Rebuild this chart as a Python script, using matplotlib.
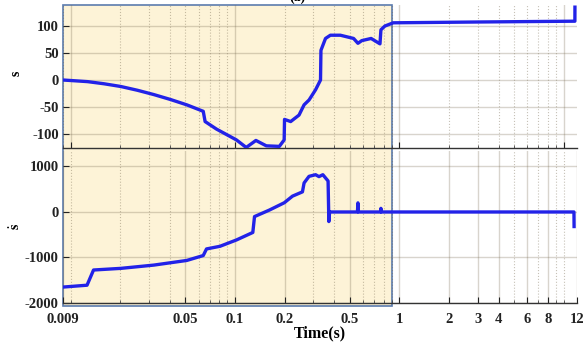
import numpy as np
import matplotlib
matplotlib.use("Agg")
import matplotlib.pyplot as plt
from matplotlib.patches import Rectangle
from matplotlib.ticker import FixedLocator, NullFormatter, LogLocator

# ---- data ----
t_s = [0.009, 0.0127, 0.016, 0.0202, 0.0255, 0.0321, 0.0404, 0.0509, 0.0641, 0.0658,
       0.0772, 0.102, 0.117, 0.134, 0.155, 0.186, 0.199, 0.2, 0.218, 0.245, 0.263,
       0.282, 0.309, 0.331, 0.333, 0.355, 0.380, 0.437, 0.526, 0.559, 0.590, 0.672,
       0.761, 0.771, 0.815, 0.916, 3.0, 11.65, 11.66]
s_vals = [0, -3, -7, -12, -19, -27, -36, -46, -58, -77,
          -91, -111, -125, -112, -122, -123, -111, -73, -77, -65, -46,
          -37, -18, 0, 55, 77, 83, 83, 77, 68, 73, 77,
          67, 93, 100, 106, 107.5, 109, 135]

t_ds = [0.009, 0.0126, 0.0138, 0.0202, 0.0321, 0.0509, 0.0641, 0.0671, 0.081, 0.102,
        0.1283, 0.1314, 0.162, 0.1993, 0.2236, 0.257, 0.263, 0.2818, 0.309, 0.324,
        0.342, 0.368, 0.372, 0.376, 0.555, 0.559, 0.563, 0.767, 0.771, 0.775,
        11.5, 11.52]
ds_vals = [-1650, -1609, -1275, -1239, -1167, -1065, -957, -812, -754, -615,
           -450, -101, 43, 203, 348, 442, 638, 783, 819, 777,
           819, 681, -210, 0, 0, 200, 0, 0, 80, 0,
           0, -320]

x_major = [0.009, 0.05, 0.1, 0.2, 0.5, 1, 2, 3, 4, 6, 8, 12]
x_major_labels = ["0.009", "0.05", "0.1", "0.2", "0.5", "1", "2", "3", "4", "6", "8", "12"]
s_ticks = [-100, -50, 0, 50, 100]
ds_ticks = [-2000, -1000, 0, 1000]

# ---- style ----
W, H = 583, 342
plt.rcParams['font.family'] = ['Liberation Serif', 'DejaVu Serif']
plt.rcParams['font.weight'] = 'bold'
plt.rcParams['font.size'] = 10.5
plt.rcParams['mathtext.fontset'] = 'stix'
line_c = '#2222e8'
grid_rgb = (0.45, 0.40, 0.30)
shade_c = '#fdf3d7'
edge_c = '#5b7bae'

fig = plt.figure(figsize=(W / 100, H / 100), dpi=100)

def fx(px):
    return px / W

def fy(py):
    return 1 - py / H

# shaded rectangle (behind axes)
fig.patches.append(Rectangle((fx(63), fy(306)), fx(392) - fx(63), fy(5) - fy(306),
                             transform=fig.transFigure, facecolor=shade_c,
                             edgecolor=edge_c, linewidth=1.2, zorder=-5))

L, R = fx(63), fx(577)
ax1 = fig.add_axes([L, fy(148), R - L, fy(5) - fy(148)])
ax2 = fig.add_axes([L, fy(303), R - L, fy(151) - fy(303)])

for ax in (ax1, ax2):
    ax.set_zorder(1)
    ax.set_facecolor('none')
    ax.patch.set_alpha(0)
    ax.set_xscale('log')
    ax.set_xlim(0.009, 12)
    for sp in ('top', 'right', 'left'):
        ax.spines[sp].set_visible(False)
    ax.spines['bottom'].set_color('#333333')
    ax.spines['bottom'].set_linewidth(1.0)
    ax.tick_params(direction='in', colors='#222222', length=4, width=0.8,
                   labelsize=10.5, pad=3)
    ax.tick_params(which='minor', direction='in', length=2, width=0.6, colors='#444444')
    ax.grid(True, which='major', color=grid_rgb, alpha=0.28, linestyle='-', linewidth=1.0)
    ax.grid(True, which='minor', axis='x', color=grid_rgb, alpha=0.4, linestyle=':', linewidth=0.8)

# top panel
ax1.plot(t_s, s_vals, color=line_c, linewidth=2.4, solid_joinstyle='round', zorder=3)
ax1.set_ylim(-126, 139)
ax1.set_yticks(s_ticks)
ax1.set_yticklabels([str(v) for v in s_ticks])
ax1.xaxis.set_major_locator(LogLocator(base=10))
ax1.xaxis.set_minor_locator(LogLocator(base=10, subs=np.arange(2, 10)))
ax1.xaxis.set_major_formatter(NullFormatter())
ax1.xaxis.set_minor_formatter(NullFormatter())
ax1.set_ylabel('s', fontsize=10, fontweight='bold')
ax1.yaxis.set_label_coords(-0.078, 0.52)

# bottom panel
ax2.plot(t_ds, ds_vals, color=line_c, linewidth=2.4, solid_joinstyle='round', zorder=3)
ax2.set_ylim(-2000, 1340)
ax2.set_yticks(ds_ticks)
ax2.set_yticklabels([str(v) for v in ds_ticks])
ax2.xaxis.set_major_locator(FixedLocator(x_major))
ax2.set_xticklabels(x_major_labels)
minors = []
for dec in [0.001, 0.01, 0.1, 1, 10]:
    for k in range(1, 10):
        v = round(k * dec, 6)
        if 0.009 < v < 12 and all(abs(v - m) > 1e-9 for m in x_major):
            minors.append(v)
ax2.xaxis.set_minor_locator(FixedLocator(minors))
ax2.xaxis.set_minor_formatter(NullFormatter())
ax2.tick_params(axis='x', pad=7)
ax2.set_ylabel('$\\mathbf{\\dot{s}}$', fontsize=10)
ax2.yaxis.set_label_coords(-0.078, 0.5)
ax2.set_xlabel('Time(s)', fontsize=11.5, fontweight='bold', labelpad=0)

# partially cut title at top (cut in the reference too)
fig.text(fx(297), fy(1), '(a)', ha='center', va='baseline', fontsize=10, fontweight='bold')

fig.savefig('out.png', dpi=100)
